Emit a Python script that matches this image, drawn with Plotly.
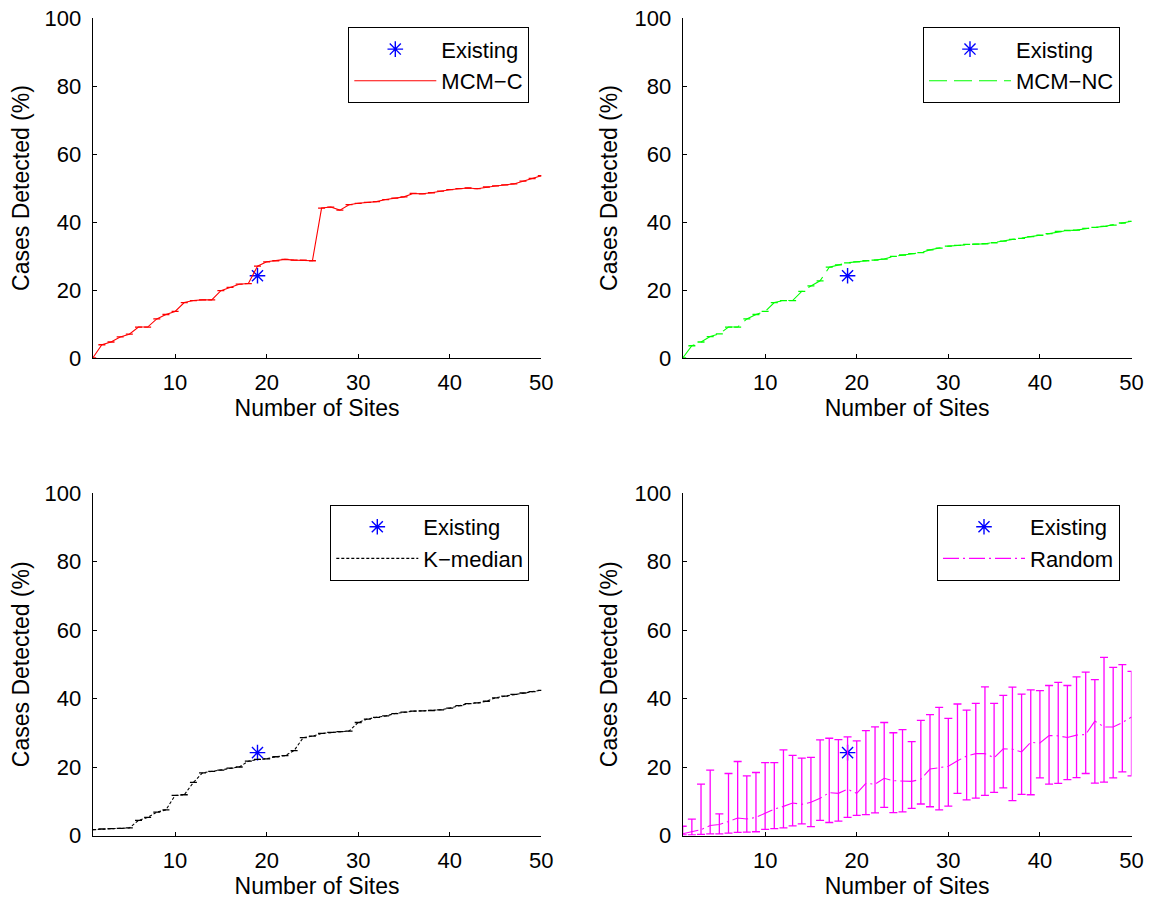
import plotly.graph_objects as go

# ---------------- data ----------------
SITES = list(range(1, 51))

MCM_C = [0, 3.9, 4.7, 6.2, 7.0, 9.1, 9.1, 11.5, 12.8, 13.7,
         16.3, 16.9, 17.1, 17.1, 19.8, 20.8, 21.7, 21.9, 27.0, 28.3,
         28.6, 29.0, 28.8, 28.8, 28.6, 44.1, 44.4, 43.5, 45.1, 45.5,
         45.8, 46.0, 46.6, 47.0, 47.4, 48.4, 48.3, 48.6, 49.1, 49.5,
         49.8, 50.0, 49.8, 50.3, 50.6, 50.9, 51.2, 52.0, 52.8, 53.6]

MCM_NC = [0, 3.6, 4.7, 6.3, 7.1, 9.1, 9.1, 11.5, 12.8, 13.7,
          16.3, 16.9, 16.9, 19.6, 21.2, 22.7, 26.7, 27.4, 28.0, 28.3,
          28.6, 28.8, 29.1, 29.9, 30.3, 30.7, 31.0, 31.8, 32.3, 32.9,
          33.1, 33.4, 33.5, 33.6, 33.9, 34.4, 34.9, 35.2, 35.7, 36.1,
          36.6, 37.2, 37.5, 37.6, 38.1, 38.4, 38.7, 39.1, 39.7, 40.2]

K_MEDIAN = [1.7, 1.9, 2.0, 2.1, 2.2, 4.4, 5.3, 6.8, 7.5, 11.7,
            11.9, 15.5, 18.3, 18.7, 19.1, 19.7, 20.0, 21.7, 22.2, 22.4,
            23.0, 23.3, 24.8, 28.6, 29.0, 29.8, 30.1, 30.3, 30.5, 33.0,
            34.0, 34.5, 34.9, 35.6, 36.0, 36.3, 36.4, 36.5, 36.7, 37.2,
            37.9, 38.5, 38.7, 39.2, 40.2, 40.7, 41.2, 41.6, 42.0, 42.4]

RANDOM_MEAN = [0.5, 1.0, 1.7, 2.9, 3.2, 4.1, 5.1, 4.8, 5.3, 6.5,
               7.7, 8.5, 9.5, 9.1, 9.7, 10.9, 12.5, 12.3, 13.5, 12.3,
               15.2, 15.0, 16.7, 16.0, 15.8, 15.8, 16.4, 19.4, 19.8, 20.2,
               21.8, 23.2, 23.9, 23.9, 22.7, 25.3, 25.2, 24.4, 27.2, 27.0,
               29.2, 29.1, 28.6, 29.3, 29.5, 33.4, 31.7, 31.7, 33.0, 34.6]

RANDOM_UPPER = [2.7, 4.8, 15.0, 19.1, 6.3, 18.1, 21.6, 17.4, 18.4, 21.3,
                21.3, 25.0, 23.4, 22.6, 22.8, 27.9, 28.4, 28.0, 28.8, 27.6,
                30.6, 31.7, 33.0, 30.0, 30.9, 27.4, 33.6, 35.3, 37.4, 34.2,
                38.4, 36.6, 38.6, 43.4, 38.6, 40.9, 43.3, 41.3, 42.5, 42.3,
                43.8, 44.7, 43.8, 46.3, 47.7, 45.5, 52.0, 49.1, 49.9, 47.9]

RANDOM_LOWER = [0.2, 0.2, 0.3, 0.5, 0.5, 0.7, 0.9, 1.0, 1.1, 1.8,
                2.0, 2.2, 2.8, 3.4, 2.6, 4.4, 3.8, 4.2, 5.3, 5.9,
                6.1, 6.6, 8.2, 6.7, 6.9, 7.9, 9.2, 8.4, 7.5, 8.6,
                12.3, 10.4, 10.9, 11.7, 12.6, 13.9, 10.2, 12.0, 11.9, 16.8,
                15.0, 15.2, 16.3, 16.9, 18.1, 15.3, 15.6, 16.8, 18.6, 17.4]

EXISTING_SITES = [19]
EXISTING_DETECTED = [24.2]

X_TICKS = [10, 20, 30, 40, 50]
Y_TICKS = [0, 20, 40, 60, 80, 100]

# ---------------- styling ----------------
FONT = "Liberation Sans, Arial, Helvetica, sans-serif"
OFF = 8                      # default page margin of the html body
W, H = 1155 - OFF, 899 - OFF

panels = [
    ("MCM\u2212C", MCM_C, "#ff0000", "solid", "x", "y", "legend"),
    ("MCM\u2212NC", MCM_NC, "#00ff00", "18px,7px", "x2", "y2", "legend2"),
    ("K\u2212median", K_MEDIAN, "#000000", "3px,2px", "x3", "y3", "legend3"),
    ("Random", RANDOM_MEAN, "#ff00ff", "16px,4px,2px,4px", "x4", "y4", "legend4"),
]

fig = go.Figure()

for name, vals, color, dash, xa, ya, lg in panels:
    fig.add_trace(go.Scatter(
        x=EXISTING_SITES, y=EXISTING_DETECTED, mode="markers", name="Existing",
        marker=dict(symbol="asterisk-open", size=13, color="#0000ff",
                    line=dict(color="#0000ff", width=1.4)),
        xaxis=xa, yaxis=ya, legend=lg, showlegend=True))
    fig.add_trace(go.Scatter(
        x=SITES, y=vals, mode="lines", name=name,
        line=dict(color=color, width=1.1, dash=dash),
        xaxis=xa, yaxis=ya, legend=lg, showlegend=True))
    if name == "Random":
        ep = [u - m for u, m in zip(RANDOM_UPPER, RANDOM_MEAN)]
        em = [m - l for m, l in zip(RANDOM_MEAN, RANDOM_LOWER)]
        cap = 4
    else:
        ep = [0] * len(vals)
        em = [0] * len(vals)
        cap = 3.5
    fig.add_trace(go.Scatter(
        x=SITES, y=vals, mode="markers",
        marker=dict(size=1, color=color, opacity=0),
        error_y=dict(type="data", symmetric=False, array=ep, arrayminus=em,
                     color=color, thickness=1.3, width=cap),
        xaxis=xa, yaxis=ya, showlegend=False, hoverinfo="skip"))


def px_x(v):
    return (v - OFF) / W


def px_y(v):
    return 1 - (v - OFF) / H


left = [px_x(92.7), px_x(541.3)]
right = [px_x(682.7), px_x(1131.5)]
top = [px_y(358.0), px_y(18.0)]
bottom = [px_y(835.5), px_y(493.0)]

tickfont = dict(family=FONT, size=22, color="black")
titlefont = dict(family=FONT, size=23, color="black")


def xax(dom, anchor):
    return dict(domain=dom, anchor=anchor, range=[1, 50], tickvals=X_TICKS,
                ticks="inside", ticklen=4, tickcolor="black", tickwidth=1,
                showline=True, linecolor="black", linewidth=1, mirror=False,
                showgrid=False, zeroline=False, tickfont=tickfont,
                ticklabelstandoff=5, ticklabeloverflow="allow",
                title=dict(text="Number of Sites", font=titlefont, standoff=1),
                automargin=False)


def yax(dom, anchor):
    return dict(domain=dom, anchor=anchor, range=[0, 100], tickvals=Y_TICKS,
                ticks="inside", ticklen=4, tickcolor="black", tickwidth=1,
                showline=True, linecolor="black", linewidth=1, mirror=False,
                showgrid=False, zeroline=False, tickfont=tickfont,
                ticklabelstandoff=6, ticklabeloverflow="allow",
                title=dict(text="Cases Detected (%)", font=titlefont, standoff=10),
                automargin=False)


def leg(xr, yt):
    return dict(x=px_x(xr), y=px_y(yt), xanchor="right", yanchor="top",
                bordercolor="black", borderwidth=1, bgcolor="white",
                font=dict(family=FONT, size=22, color="black"),
                itemwidth=82, traceorder="normal", tracegroupgap=0)


fig.update_layout(
    width=W, height=H,
    margin=dict(l=0, r=0, t=0, b=0),
    paper_bgcolor="white", plot_bgcolor="white",
    font=dict(family=FONT, color="black"),
    xaxis=xax(left, "y"), yaxis=yax(top, "x"),
    xaxis2=xax(right, "y2"), yaxis2=yax(top, "x2"),
    xaxis3=xax(left, "y3"), yaxis3=yax(bottom, "x3"),
    xaxis4=xax(right, "y4"), yaxis4=yax(bottom, "x4"),
    legend=leg(529.3, 27.3),
    legend2=leg(1120.0, 27.3),
    legend3=leg(529.3, 505.0),
    legend4=leg(1120.0, 505.0),
)

fig.write_html("out.html")
